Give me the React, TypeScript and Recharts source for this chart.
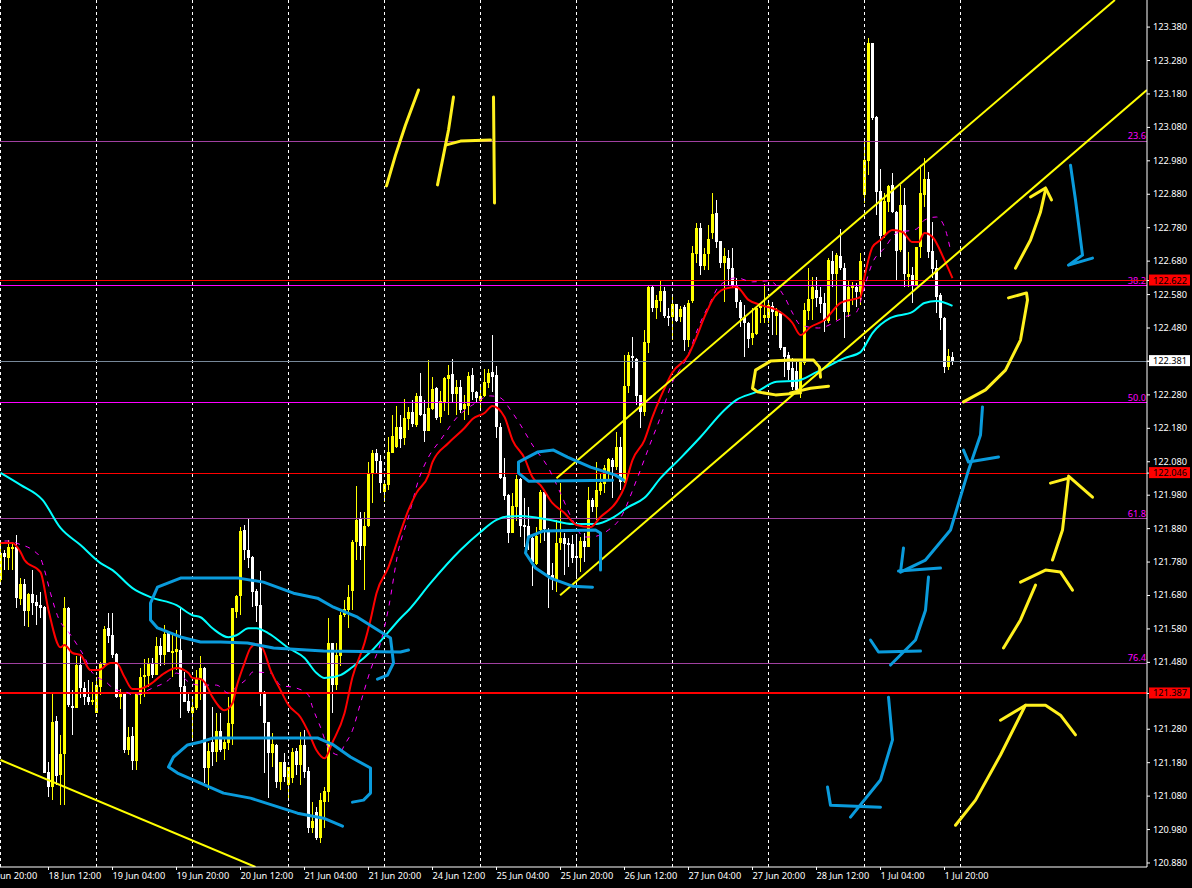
import { Bar, ComposedChart, Line, ReferenceLine, XAxis, YAxis } from "recharts";

// hourly bars
const opens = [
  121.726,121.807,121.792,121.819,121.825,121.669,121.714,121.633,121.684,121.660,
  121.651,121.645,121.152,121.107,121.304,121.143,121.206,121.642,121.349,121.343,
  121.472,121.403,121.376,121.361,121.328,121.406,121.472,121.583,121.562,121.505,
  121.376,121.388,121.217,121.259,121.184,121.382,121.436,121.439,121.478,121.442,
  121.529,121.502,121.571,121.508,121.511,121.517,121.409,121.364,121.328,121.343,
  121.427,121.463,121.164,121.241,121.211,121.274,121.220,121.238,121.295,121.630,
  121.678,121.876,121.816,121.795,121.693,121.651,121.391,121.301,121.208,121.232,
  121.122,121.182,121.113,121.134,121.214,121.172,121.232,121.155,120.985,121.032,
  120.955,121.062,121.092,121.538,121.412,121.499,121.621,121.636,121.693,121.840,
  121.909,121.828,121.888,122.046,122.106,122.082,121.989,122.010,122.106,122.124,
  122.184,122.151,122.208,122.229,122.190,122.277,122.223,122.172,122.238,122.301,
  122.214,122.256,122.327,122.342,122.283,122.304,122.238,122.247,122.339,122.289,
  122.262,122.277,122.315,122.348,122.339,122.184,122.034,121.981,121.867,121.945,
  122.028,121.891,121.888,121.852,121.774,121.876,121.990,121.876,121.741,121.726,
  121.837,121.852,121.837,121.834,121.798,121.792,121.843,121.825,121.966,121.945,
  121.992,122.013,122.049,122.085,122.064,122.124,122.019,122.306,122.396,122.387,
  122.280,122.229,122.435,122.603,122.540,122.561,122.591,122.516,122.513,122.552,
  122.513,122.543,122.444,122.561,122.701,122.779,122.665,122.701,122.764,122.824,
  122.740,122.674,122.689,122.659,122.609,122.558,122.513,122.495,122.450,122.462,
  122.540,122.510,122.510,122.546,122.516,122.525,122.423,122.399,122.360,122.351,
  122.295,122.375,122.531,122.567,122.594,122.573,122.555,122.501,122.680,122.641,
  122.695,122.659,122.528,122.600,122.603,122.588,122.878,122.979,123.332,123.111,
  122.890,122.758,122.857,122.908,122.827,122.713,122.848,122.632,122.638,122.609,
  122.722,122.878,122.926,122.710,122.659,122.579,122.510,122.363,122.393,
];
const highs = [
  121.837,121.816,121.846,121.837,121.861,121.732,121.729,121.687,121.756,121.681,
  121.690,121.648,121.182,121.388,121.319,121.262,121.675,121.645,121.397,121.499,
  121.502,121.421,121.427,121.421,121.436,121.481,121.589,121.628,121.628,121.508,
  121.400,121.391,121.286,121.286,121.388,121.463,121.490,121.493,121.493,121.556,
  121.553,121.592,121.574,121.562,121.577,121.646,121.451,121.391,121.376,121.457,
  121.499,121.466,121.238,121.346,121.328,121.328,121.253,121.376,121.642,121.681,
  121.885,121.891,121.912,121.798,121.699,121.753,121.394,121.301,121.268,121.235,
  121.182,121.208,121.167,121.223,121.223,121.271,121.277,121.167,121.062,121.047,
  121.089,121.107,121.612,121.538,121.538,121.630,121.666,121.711,121.846,122.007,
  121.930,121.930,122.079,122.115,122.118,122.100,122.016,122.154,122.220,122.247,
  122.220,122.268,122.244,122.265,122.286,122.345,122.265,122.384,122.333,122.304,
  122.292,122.333,122.369,122.387,122.324,122.324,122.280,122.348,122.360,122.292,
  122.310,122.357,122.357,122.459,122.366,122.196,122.091,121.984,121.987,122.040,
  122.031,121.972,121.945,121.861,121.885,121.996,121.996,121.882,121.777,121.906,
  122.016,121.867,121.852,121.861,121.855,121.855,121.867,122.004,121.972,122.079,
  122.043,122.070,122.091,122.091,122.169,122.154,122.399,122.408,122.453,122.390,
  122.280,122.474,122.606,122.606,122.579,122.621,122.603,122.540,122.579,122.552,
  122.546,122.549,122.564,122.725,122.794,122.794,122.719,122.788,122.884,122.863,
  122.740,122.719,122.713,122.719,122.630,122.564,122.549,122.498,122.540,122.540,
  122.555,122.612,122.555,122.558,122.540,122.531,122.423,122.408,122.390,122.378,
  122.384,122.555,122.659,122.632,122.632,122.603,122.585,122.689,122.710,122.704,
  122.776,122.674,122.624,122.618,122.615,122.704,123.048,123.347,123.332,123.114,
  122.956,122.884,122.908,122.944,122.830,122.908,122.899,122.707,122.662,122.722,
  122.968,122.988,122.947,122.797,122.683,122.585,122.513,122.417,122.408,
];
const lows = [
  121.717,121.757,121.757,121.757,121.642,121.651,121.588,121.585,121.622,121.591,
  121.612,121.149,121.077,121.068,121.113,121.053,121.053,121.346,121.262,121.343,
  121.373,121.352,121.352,121.352,121.328,121.382,121.466,121.538,121.493,121.373,
  121.340,121.208,121.202,121.157,121.157,121.355,121.376,121.406,121.433,121.442,
  121.469,121.472,121.511,121.436,121.457,121.313,121.361,121.328,121.247,121.337,
  121.367,121.119,121.098,121.169,121.181,121.211,121.187,121.217,121.232,121.612,
  121.622,121.786,121.762,121.645,121.600,121.349,121.149,121.074,121.166,121.104,
  121.098,121.122,121.068,121.119,121.143,121.113,121.134,120.970,120.970,120.949,
  120.940,120.985,121.062,121.328,121.397,121.469,121.615,121.582,121.636,121.786,
  121.786,121.696,121.885,121.957,122.046,121.986,121.960,121.995,122.106,122.121,
  122.121,122.130,122.175,122.184,122.184,122.217,122.139,122.172,122.235,122.205,
  122.196,122.232,122.220,122.259,122.220,122.226,122.205,122.220,122.265,122.259,
  122.235,122.274,122.300,122.289,122.151,122.028,121.966,121.837,121.867,121.903,
  121.855,121.825,121.816,121.708,121.771,121.837,121.843,121.642,121.696,121.690,
  121.816,121.741,121.765,121.777,121.735,121.750,121.780,121.825,121.930,121.906,
  121.981,121.986,122.025,121.972,122.055,121.995,122.016,122.285,122.360,122.250,
  122.181,122.217,122.405,122.528,122.507,122.528,122.510,122.486,122.444,122.498,
  122.498,122.411,122.423,122.555,122.674,122.638,122.653,122.653,122.746,122.719,
  122.659,122.558,122.608,122.600,122.540,122.483,122.393,122.420,122.429,122.459,
  122.495,122.495,122.495,122.459,122.459,122.414,122.333,122.324,122.295,122.289,
  122.271,122.369,122.504,122.504,122.543,122.525,122.468,122.495,122.603,122.504,
  122.653,122.450,122.513,122.549,122.543,122.549,122.854,122.938,123.102,122.818,
  122.692,122.749,122.827,122.824,122.620,122.707,122.603,122.603,122.555,122.609,
  122.689,122.842,122.689,122.630,122.525,122.474,122.345,122.354,122.369,
];
const closes = [
  121.807,121.795,121.825,121.825,121.672,121.714,121.633,121.684,121.657,121.648,
  121.642,121.149,121.107,121.301,121.140,121.206,121.642,121.352,121.343,121.472,
  121.403,121.376,121.361,121.367,121.412,121.475,121.580,121.559,121.502,121.376,
  121.388,121.217,121.256,121.184,121.385,121.436,121.442,121.478,121.442,121.529,
  121.502,121.565,121.511,121.514,121.520,121.406,121.361,121.334,121.346,121.433,
  121.463,121.164,121.214,121.211,121.274,121.217,121.241,121.298,121.642,121.678,
  121.873,121.816,121.792,121.690,121.648,121.391,121.298,121.208,121.235,121.122,
  121.182,121.137,121.167,121.211,121.172,121.232,121.152,120.985,121.005,120.955,
  121.068,121.095,121.538,121.412,121.502,121.621,121.639,121.675,121.840,121.906,
  121.828,121.888,122.046,122.106,122.082,122.016,122.013,122.109,122.157,122.184,
  122.148,122.211,122.229,122.193,122.277,122.220,122.172,122.241,122.298,122.211,
  122.262,122.330,122.339,122.283,122.304,122.235,122.253,122.336,122.289,122.271,
  122.277,122.318,122.345,122.333,122.184,122.031,121.977,121.867,121.948,122.028,
  121.888,121.885,121.852,121.780,121.858,121.990,121.879,121.741,121.732,121.837,
  121.852,121.834,121.831,121.792,121.792,121.843,121.825,121.966,121.945,121.996,
  122.016,122.061,122.088,122.064,122.124,122.019,122.306,122.399,122.390,122.277,
  122.229,122.438,122.603,122.540,122.564,122.591,122.516,122.510,122.552,122.501,
  122.537,122.444,122.555,122.704,122.779,122.665,122.701,122.746,122.821,122.737,
  122.674,122.695,122.656,122.606,122.558,122.510,122.495,122.447,122.465,122.540,
  122.549,122.519,122.549,122.528,122.531,122.420,122.393,122.354,122.304,122.295,
  122.378,122.534,122.567,122.603,122.570,122.552,122.501,122.683,122.641,122.698,
  122.659,122.528,122.603,122.609,122.588,122.680,122.982,123.332,123.108,122.887,
  122.755,122.860,122.905,122.827,122.710,122.848,122.641,122.641,122.609,122.722,
  122.884,122.926,122.707,122.656,122.573,122.510,122.363,122.396,122.381,
];

// moving averages as [bar, price]
const maRed = [
  [0,121.837],[3,121.837],[5,121.810],[6,121.786],[10,121.750],[12,121.636],[15,121.525],[16,121.532],[18,121.508],[20,121.502],
  [22.5,121.457],[24.5,121.457],[27.5,121.478],[29,121.478],[31,121.436],[33,121.400],[34.5,121.400],[37.5,121.415],[41,121.448],[44,121.463],
  [47,121.448],[48,121.433],[50,121.430],[51,121.421],[53,121.376],[56,121.337],[58,121.358],[59,121.406],[61,121.478],[62.5,121.523],
  [64,121.535],[65.5,121.523],[67.5,121.457],[70,121.397],[72,121.352],[75,121.316],[77,121.271],[79,121.217],[81,121.193],[83,121.241],
  [86,121.328],[88,121.436],[91,121.538],[92.5,121.607],[94,121.687],[97,121.765],[100,121.870],[102,121.936],[104,121.987],[107,122.040],
  [108,122.079],[112,122.136],[116,122.181],[118,122.208],[121,122.226],[123,122.247],[126,122.214],[128,122.145],[131,122.091],[133,122.034],
  [135,122.010],[138,121.956],[141,121.927],[144,121.891],[147.5,121.885],[150,121.915],[154,121.960],[156,122.005],[158,122.085],[161,122.145],
  [163,122.214],[165,122.273],[168,122.348],[172,122.399],[174,122.453],[176,122.513],[178,122.564],[181,122.597],[184,122.603],[187,122.564],
  [190,122.549],[194,122.534],[198,122.495],[200,122.459],[202.5,122.483],[206,122.504],[210,122.555],[215,122.573],[216,122.633],[218,122.722],
  [220,122.743],[223,122.773],[225.5,122.767],[228,122.737],[229.5,122.737],[231,122.764],[233,122.752],[236,122.683],[238,122.629],
];
const maMagenta = [
  [1,121.843],[3,121.843],[4,121.837],[8,121.816],[10,121.792],[11,121.756],[12.5,121.687],[14.5,121.612],[17,121.571],[19.5,121.526],
  [21,121.496],[22.5,121.457],[27,121.415],[28,121.403],[32,121.388],[33,121.382],[38,121.403],[42,121.427],[44,121.448],[47.5,121.418],
  [50,121.412],[54,121.412],[57,121.388],[59,121.406],[62,121.436],[63,121.451],[67.5,121.448],[70,121.412],[74,121.403],[77,121.382],
  [78,121.346],[80,121.286],[82,121.224],[84.5,121.203],[86,121.233],[88,121.277],[90,121.358],[92.5,121.457],[95,121.538],[97,121.642],
  [99.5,121.816],[102,121.915],[104.5,122.025],[107,122.094],[110,122.145],[114,122.211],[118,122.250],[122.5,122.277],[125,122.271],[127.5,122.235],
  [130,122.190],[133,122.130],[137,122.061],[140,121.986],[143,121.906],[146,121.855],[147.5,121.855],[152,121.876],[155,121.912],[159,122.025],
  [162.5,122.136],[165,122.214],[167.5,122.304],[172,122.402],[174.5,122.483],[177.5,122.558],[179.5,122.603],[184,122.630],[188,122.618],[192,122.621],
  [196,122.573],[198,122.525],[200,122.489],[204.5,122.480],[211,122.513],[214,122.528],[216,122.603],[218,122.675],[221,122.719],[224,122.764],
  [229,122.776],[231,122.803],[234,122.812],[236,122.782],[237.5,122.713],
];
const maCyan = [
  [0,122.047],[5,122.011],[10.5,121.966],[15,121.882],[20,121.831],[25,121.777],[28,121.756],[33,121.702],[37.5,121.675],[44,121.651],
  [48,121.621],[50,121.615],[53,121.582],[57,121.555],[59,121.561],[62,121.582],[64,121.582],[67,121.567],[72,121.523],[76,121.493],
  [79,121.448],[81,121.433],[85,121.442],[88,121.466],[93,121.517],[97,121.571],[100,121.612],[102,121.636],[107.5,121.717],[115,121.816],
  [120,121.870],[124,121.906],[126,121.915],[130,121.918],[137.5,121.906],[143,121.894],[149,121.894],[153,121.912],[157,121.945],[161,121.972],
  [165,122.031],[170,122.091],[175,122.154],[181,122.235],[184,122.265],[189,122.289],[194,122.319],[199,122.322],[204,122.348],[211,122.390],
  [215,122.408],[218,122.465],[222.5,122.510],[228,122.528],[231,122.555],[234,122.561],[238,122.546],
];

// ruled trend lines
const trendLines = [
  [[0,121.188],[63.75,120.868]],
  [[139,122.031],[278.6,123.461]],
  [[139.9,121.681],[286.6,123.192]],
];

// hand drawn marks
const yellowStrokes = [
  [[96.5,122.905],[98.75,122.997],[101.25,123.087],[104.5,123.192]],
  [[109.25,122.908],[110.5,122.982],[112,123.072],[113.25,123.171]],
  [[111.25,123.027],[115,123.039],[122.5,123.042]],
  [[123.25,123.171],[123.5,122.854]],
  [[253.75,122.659],[257.5,122.743],[260,122.827],[261.25,122.893]],
  [[257.5,122.872],[261.25,122.899],[262.75,122.863]],
  [[240.75,122.259],[246.25,122.295],[251.25,122.354],[255,122.444],[256.75,122.564],[256.5,122.585],[252,122.570]],
  [[263,121.786],[265.5,121.876],[267,122.031],[262.5,122.016]],
  [[267,122.037],[273,121.974]],
  [[250.75,121.523],[255,121.607],[258.75,121.711]],
  [[255,121.720],[261.25,121.756],[265,121.750],[268,121.696]],
  [[238.75,120.993],[243.75,121.068],[250,121.203],[256.25,121.352],[250,121.307]],
  [[256.25,121.352],[261.25,121.352],[265,121.322],[268.75,121.263]],
  [[205,122.333],[204.75,122.363],[203.25,122.384],[197.5,122.384],[192.5,122.381],[188.75,122.354],[188,122.300],[189.25,122.289],[193.75,122.280],[200,122.286]],
  [[197.5,122.286],[202.5,122.300],[207,122.306]],
];
const blueStrokes = [
  [[94.25,121.430],[96.75,121.442],[98.25,121.478],[97.5,121.553],[89.25,121.615],[83.25,121.645],[79.25,121.672],[73.25,121.687],[65.75,121.720],[59.5,121.732],[50,121.732],[45,121.732],[39.25,121.705],[37.5,121.657],[37.5,121.607],[39.25,121.583],[45,121.556],[50,121.541],[55,121.541],[61.75,121.538],[68.25,121.523],[80.75,121.514],[100,121.511],[102,121.517]],
  [[88,121.062],[90.75,121.068],[92.5,121.089],[92.5,121.164],[87.5,121.197],[83.25,121.233],[79.25,121.254],[53.25,121.254],[50,121.242],[46.75,121.233],[43.25,121.197],[42,121.167],[44.25,121.149],[50,121.119],[55.75,121.089],[62.5,121.074],[74.25,121.029],[80.75,121.014],[85.5,120.990]],
  [[155.75,122.025],[153.75,122.040],[147.5,122.064],[141.75,122.094],[138.25,122.115],[134.25,122.109],[129.5,122.079],[129.5,122.046],[132,122.022],[153,122.025]],
  [[150,121.756],[150,121.867],[148.75,121.876],[135.75,121.873],[132,121.855],[131.25,121.807],[133.75,121.762],[137.5,121.732],[143,121.708],[148,121.705]],
  [[267.5,122.967],[268.75,122.863],[270.5,122.698],[267,122.668],[273,122.689]],
  [[245.5,122.244],[245,122.160],[242,122.055],[237.5,121.876],[231.25,121.786],[225,121.750],[225.75,121.822]],
  [[224.5,121.753],[235,121.762]],
  [[240.75,122.115],[242,122.079],[249.5,122.094]],
  [[232,121.735],[231.25,121.636],[228.75,121.547],[222.5,121.472]],
  [[217.5,121.547],[219.5,121.511],[230,121.514]],
  [[222,121.376],[223,121.248],[220,121.128],[212.5,121.017]],
  [[206.75,121.107],[207.5,121.053],[220,121.047]],
];

// axes
const priceTicks = [
  123.38,123.28,123.18,123.08,122.98,122.88,122.78,122.68,122.58,122.48,122.38,122.28,122.18,122.08,
  121.98,121.88,121.78,121.68,121.58,121.48,121.28,121.18,121.08,120.98,120.88,
];
const timeTicks = [-4,12,28,44,60,76,92,108,124,140,156,172,188,204,220,236];
const timeLabels = [
  "17 Jun 20:00","18 Jun 12:00","19 Jun 04:00","19 Jun 20:00","20 Jun 12:00","21 Jun 04:00","21 Jun 20:00","24 Jun 12:00",
  "25 Jun 04:00","25 Jun 20:00","26 Jun 12:00","27 Jun 04:00","27 Jun 20:00","28 Jun 12:00","1 Jul 04:00","1 Jul 20:00",
];
const periodSeparators = [0,24,48,72,96,120,144,168,192,216,240];

// fibonacci levels
const fibLevels = [123.039,122.606,122.256,121.909,121.478];
const fibLabels = ["23.6","38.2","50.0","61.8","76.4"];
const fibColors = ["#a040a0","#ff00ff","#ff00ff","#a040a0","#a040a0"];

// price tags on the right hand axis
const redLevels = [122.622,122.046,121.387];
const redWidths = [1,1,2];
const lastPrice = 122.381;

const UI_FONT = "'Noto Sans', sans-serif";
const bars = opens.map((o, i) => ({ i, o, h: highs[i], l: lows[i], c: closes[i] }));
const toPoints = (pts: number[][]) => pts.map(([i, p]) => ({ i, p }));

function Candle(props: any) {
  const { x, y, width, height, payload } = props;
  const { o, h, l, c } = payload;
  const cx = Math.round(x + width / 2 - 0.5);
  const k = height / (h - l || 1);
  const top = y + (h - Math.max(o, c)) * k;
  const bodyH = Math.max(Math.abs(o - c) * k, 1);
  const color = c >= o ? "#ffff00" : "#ffffff";
  return (
    <g shapeRendering="crispEdges">
      <rect x={cx} y={y} width={1} height={height} fill={color} />
      <rect x={cx - 1} y={top} width={3} height={bodyH} fill={color} />
    </g>
  );
}

function PriceTick(props: any) {
  const { x, y, payload } = props;
  const v = payload.value;
  const isRed = redLevels.includes(v);
  if (isRed || v === lastPrice) {
    return (
      <g>
        <rect x={x - 4} y={y - 6} width={41} height={11} fill={isRed ? "#ff0000" : "#ffffff"} />
        <text x={x} y={y + 3} fontSize={9.2} fontFamily={UI_FONT} fill="#000000">{v.toFixed(3)}</text>
      </g>
    );
  }
  return <text x={x} y={y + 3} fontSize={9.2} fontFamily={UI_FONT} fill="#ffffff">{v.toFixed(3)}</text>;
}

function TimeTick(props: any) {
  const { x, y, payload, index } = props;
  const label = timeLabels[timeTicks.indexOf(payload.value)] ?? timeLabels[index];
  return <text x={x} y={y + 9} fontSize={9.2} fontFamily={UI_FONT} fill="#ffffff">{label}</text>;
}

function FibLabel(props: any) {
  const { viewBox, value } = props;
  return (
    <text x={viewBox.x + viewBox.width - 1} y={viewBox.y - 2} textAnchor="end" fontSize={9.2} fontFamily={UI_FONT} fill="#ff00ff">
      {value}
    </text>
  );
}

export default function App() {
  return (
    <div style={{ position: "absolute", left: 0, top: 0, width: 1192, height: 888, background: "#000000", overflow: "hidden" }}>
      <ComposedChart width={1192} height={888} data={bars} margin={{ top: 0, right: 0, bottom: 0, left: 0 }}>
        <XAxis
          dataKey="i"
          type="number"
          domain={[-0.125, 286.625]}
          ticks={timeTicks}
          interval={0}
          allowDataOverflow
          height={21}
          tickSize={3}
          tickMargin={0}
          stroke="#ffffff"
          tick={<TimeTick />}
        />
        <YAxis
          type="number"
          orientation="right"
          domain={[120.868, 123.461]}
          ticks={[...priceTicks, ...redLevels, lastPrice]}
          interval={0}
          allowDataOverflow
          width={45}
          tickSize={3}
          tickMargin={3}
          stroke="#ffffff"
          tick={<PriceTick />}
        />
        {periodSeparators.map((v) => (
          <ReferenceLine key={v} x={v} stroke="#ffffff" strokeDasharray="3 3" shapeRendering="crispEdges" />
        ))}
        {fibLevels.map((v, n) => (
          <ReferenceLine
            key={v}
            y={v}
            stroke={fibColors[n]}
            shapeRendering="crispEdges"
            label={<FibLabel value={fibLabels[n]} />}
          />
        ))}
        {redLevels.map((v, n) => (
          <ReferenceLine key={v} y={v} stroke="#ff0000" strokeWidth={redWidths[n]} shapeRendering="crispEdges" />
        ))}
        <ReferenceLine y={lastPrice} stroke="#778899" shapeRendering="crispEdges" />
        <Bar dataKey={(d: any) => [d.l, d.h]} barSize={3} shape={<Candle />} isAnimationActive={false} />
        <Line data={toPoints(maCyan)} dataKey="p" type="monotone" stroke="#00ffff" strokeWidth={2} dot={false} activeDot={false} isAnimationActive={false} />
        <Line data={toPoints(maMagenta)} dataKey="p" type="monotone" stroke="#ff00ff" strokeWidth={1} strokeDasharray="5 6" dot={false} activeDot={false} isAnimationActive={false} />
        <Line data={toPoints(maRed)} dataKey="p" type="monotone" stroke="#ff0000" strokeWidth={2} dot={false} activeDot={false} isAnimationActive={false} />
        {trendLines.map((pts, n) => (
          <Line key={n} data={toPoints(pts)} dataKey="p" type="linear" stroke="#ffff00" strokeWidth={2} dot={false} activeDot={false} isAnimationActive={false} />
        ))}
        {yellowStrokes.map((pts, n) => (
          <Line key={n} data={toPoints(pts)} dataKey="p" type="linear" stroke="#fff01e" strokeWidth={3} strokeLinecap="round" strokeLinejoin="round" dot={false} activeDot={false} isAnimationActive={false} />
        ))}
        {blueStrokes.map((pts, n) => (
          <Line key={n} data={toPoints(pts)} dataKey="p" type="linear" stroke="#0a9bdc" strokeWidth={3} strokeLinecap="round" strokeLinejoin="round" dot={false} activeDot={false} isAnimationActive={false} />
        ))}
      </ComposedChart>
    </div>
  );
}
